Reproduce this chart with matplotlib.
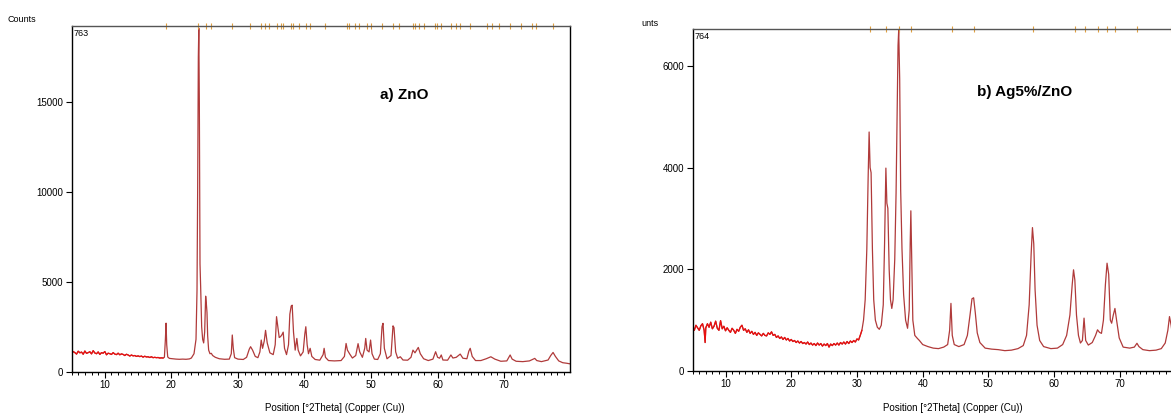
import matplotlib
matplotlib.use("Agg")
import matplotlib.pyplot as plt
from matplotlib.ticker import MultipleLocator

# ---- a) ZnO : 2theta / counts ----
zno_2theta = [5.00, 5.25, 5.50, 5.75, 6.00, 6.25, 6.50, 6.75, 7.00, 7.25, 7.50, 7.75,
              8.00, 8.25, 8.50, 8.75, 9.00, 9.25, 9.50, 9.75, 10.00, 10.25, 10.50, 10.75,
              11.00, 11.25, 11.50, 11.75, 12.00, 12.25, 12.50, 12.75, 13.00, 13.25, 13.50,
              13.75, 14.00, 14.25, 14.50, 14.75, 15.00, 15.25, 15.50, 15.75, 16.00, 16.25,
              16.50, 16.75, 17.00, 17.25, 17.50, 17.75, 18.00, 18.25, 18.50, 18.75,
              18.95, 19.1, 19.2, 19.3, 19.45, 19.7, 20.2, 20.7, 21.2, 21.7, 22.2, 22.7,
              23.0, 23.4, 23.7, 23.85, 23.95, 24.05, 24.12, 24.2, 24.3, 24.4, 24.55, 24.7,
              24.85, 25.0, 25.15, 25.25, 25.35, 25.45, 25.6, 25.8, 26.0, 26.2, 26.6, 27.2,
              28.0, 28.7, 29.0, 29.15, 29.3, 29.5, 30.0, 30.8, 31.3, 31.7, 31.9, 32.2,
              32.6, 33.0, 33.3, 33.5, 33.7, 33.95, 34.15, 34.4, 34.8, 35.3, 35.6, 35.8,
              36.0, 36.2, 36.4, 36.6, 36.8, 37.0, 37.3, 37.6, 37.8, 38.0, 38.15, 38.35,
              38.6, 38.85, 39.05, 39.4, 39.8, 40.05, 40.2, 40.4, 40.6, 40.85, 41.1, 41.6,
              42.3, 42.8, 42.95, 43.15, 43.6, 44.5, 45.5, 46.0, 46.25, 46.45, 46.8, 47.2,
              47.7, 48.05, 48.3, 48.7, 49.05, 49.2, 49.4, 49.7, 49.93, 50.15, 50.5, 51.0,
              51.4, 51.65, 51.8, 52.0, 52.4, 53.0, 53.3, 53.45, 53.7, 54.0, 54.4, 54.8,
              55.5, 56.0, 56.3, 56.6, 57.1, 57.4, 57.9, 58.6, 59.3, 59.7, 60.0, 60.3,
              60.55, 60.8, 61.5, 62.0, 62.3, 62.8, 63.4, 63.8, 64.4, 64.7, 64.9, 65.2,
              65.7, 66.5, 67.3, 68.0, 68.6, 69.5, 70.4, 70.9, 71.2, 71.8, 72.8, 73.8,
              74.6, 74.9, 75.6, 76.6, 77.0, 77.35, 77.7, 78.2, 78.8, 79.4, 80.0]
zno_counts = [1010, 1120, 1060, 980, 1140, 1050, 1090, 970, 1150, 1020, 1060, 1110,
              990, 1170, 1040, 1000, 1100, 960, 1060, 1030, 1120, 940, 1030, 1000,
              960, 1060, 980, 950, 1030, 940, 990, 960, 900, 970, 930,
              870, 930, 880, 900, 850, 880, 840, 870, 810, 860, 820,
              830, 790, 830, 780, 800, 780, 790, 760, 770, 760,
              800, 1800, 2700, 1500, 820, 740, 720, 700, 690, 700, 690, 710,
              760, 1000, 1800, 4500, 10200, 17500, 19100, 15000, 6000, 4700, 2500, 1800,
              1600, 2200, 4200, 3800, 3300, 2000, 1200, 1000, 1020, 900, 800, 720,
              690, 700, 1000, 2040, 1300, 780, 700, 680, 800, 1250, 1390, 1200,
              850, 780, 1100, 1760, 1300, 1700, 2300, 1600, 1050, 950, 1500, 3060,
              2500, 1900, 1950, 2050, 2200, 1300, 950, 1500, 3200, 3650, 3700, 2200,
              1200, 1850, 1200, 880, 1100, 2100, 2500, 1500, 1000, 1300, 850, 680,
              640, 950, 1300, 800, 620, 600, 620, 850, 1570, 1200, 980, 760,
              900, 1560, 1100, 800, 1300, 1850, 1200, 1100, 1760, 1000, 700, 680,
              1000, 2500, 2690, 1300, 720, 900, 2550, 2450, 1100, 750, 830, 650,
              640, 800, 1200, 1050, 1350, 1000, 720, 620, 700, 1110, 800, 750,
              930, 650, 640, 930, 760, 800, 980, 750, 720, 1150, 1300, 850,
              620, 620, 720, 830, 700, 580, 600, 930, 700, 580, 560, 600,
              740, 620, 560, 650, 900, 1070, 850, 600, 500, 470, 430]

# ---- b) Ag5%/ZnO ----
agzno_2theta = [5.00, 5.25, 5.50, 5.75, 6.00, 6.25, 6.50, 6.75, 6.90, 7.00, 7.25, 7.50,
                7.75, 8.00, 8.25, 8.50, 8.75, 9.00, 9.25, 9.50, 9.75, 10.00, 10.25, 10.50,
                10.75, 11.00, 11.25, 11.50, 11.75, 12.00, 12.25, 12.50, 12.75, 13.00, 13.25,
                13.50, 13.75, 14.00, 14.25, 14.50, 14.75, 15.00, 15.25, 15.50, 15.75, 16.00,
                16.25, 16.50, 16.75, 17.00, 17.25, 17.50, 17.75, 18.00, 18.25, 18.50, 18.75,
                19.00, 19.25, 19.50, 19.75, 20.00, 20.25, 20.50, 20.75, 21.00, 21.25, 21.50,
                21.75, 22.00, 22.25, 22.50, 22.75, 23.00, 23.25, 23.50, 23.75, 24.00, 24.25,
                24.50, 24.75, 25.00, 25.25, 25.50, 25.75, 26.00, 26.25, 26.50, 26.75, 27.00,
                27.25, 27.50, 27.75, 28.00, 28.25, 28.50, 28.75, 29.00, 29.25, 29.50, 29.75,
                30.00, 30.25, 30.50, 30.75, 31.00, 31.25, 31.50, 31.70, 31.85, 32.00, 32.15,
                32.35, 32.55, 32.8, 33.1, 33.4, 33.7, 34.0, 34.2, 34.4, 34.55, 34.7, 34.9,
                35.1, 35.3, 35.5, 35.75, 35.95, 36.1, 36.25, 36.35, 36.5, 36.65, 36.85, 37.1,
                37.4, 37.7, 37.95, 38.1, 38.2, 38.35, 38.5, 38.8, 39.2, 39.5, 40.0, 40.8,
                41.6, 42.4, 43.2, 43.8, 44.1, 44.3, 44.5, 44.8, 45.5, 46.3, 46.8, 47.2,
                47.5, 47.75, 48.0, 48.3, 48.7, 49.5, 50.5, 51.5, 52.5, 53.5, 54.5, 55.3,
                55.8, 56.2, 56.5, 56.7, 56.9, 57.1, 57.4, 57.8, 58.4, 59.5, 60.5, 61.3,
                61.9, 62.4, 62.75, 62.95, 63.15, 63.4, 63.7, 64.0, 64.3, 64.55, 64.8, 65.2,
                65.8, 66.3, 66.6, 66.9, 67.2, 67.5, 67.8, 68.05, 68.3, 68.55, 68.75, 69.0,
                69.25, 69.5, 69.9, 70.5, 71.5, 72.2, 72.6, 72.9, 73.5, 74.5, 75.5, 76.3,
                76.9, 77.3, 77.55, 77.8, 78.1, 78.8, 80.0]
agzno_counts = [860, 800, 900, 850, 800, 890, 930, 800, 560, 850, 930, 860,
                960, 830, 880, 980, 840, 800, 990, 830, 880, 790, 850, 800,
                760, 840, 800, 740, 820, 780, 860, 900, 800, 830, 760,
                810, 740, 780, 720, 760, 700, 750, 720, 690, 740, 700,
                690, 750, 720, 770, 700, 720, 660, 690, 640, 670, 620,
                660, 610, 640, 590, 620, 580, 600, 560, 590, 550, 580,
                540, 560, 530, 570, 520, 550, 510, 540, 500, 550, 510,
                540, 490, 530, 500, 540, 470, 530, 500, 540, 510, 550,
                510, 560, 530, 570, 530, 580, 540, 590, 560, 600, 570,
                630, 610, 700, 800, 1000, 1400, 2400, 3800, 4700, 4000, 3900,
                2400, 1400, 1000, 860, 820, 900, 1300, 2500, 3990, 3300, 3200, 2000,
                1400, 1230, 1400, 2200, 3500, 5000, 6400, 6700, 5740, 3560, 2400, 1500,
                1000, 840, 1200, 2500, 3150, 2050, 1000, 700, 640, 600, 520, 480,
                450, 440, 470, 520, 800, 1330, 700, 520, 480, 520, 700, 1100,
                1420, 1440, 1150, 750, 560, 450, 430, 420, 400, 410, 440, 500,
                700, 1300, 2300, 2820, 2500, 1600, 900, 600, 480, 440, 450, 520,
                700, 1100, 1700, 1990, 1790, 1100, 700, 550, 600, 1040, 600, 510,
                560, 700, 810, 760, 740, 1000, 1700, 2120, 1900, 1000, 940, 1100,
                1230, 1000, 650, 470, 450, 470, 545, 480, 420, 400, 410, 440,
                550, 800, 1070, 900, 600, 450, 430]

# reference pattern markers along the top
zno_ref_pos = [19.2, 24.07, 25.18, 25.96, 29.13, 31.86, 33.53, 34.03, 34.69, 35.8, 36.42,
               36.8, 38.03, 38.2, 39.2, 40.2, 40.87, 43.04, 46.32, 46.65, 47.65, 48.2,
               49.32, 49.99, 51.71, 53.33, 54.16, 56.27, 56.66, 57.22, 57.94, 59.61, 59.89,
               60.45, 62.0, 62.78, 63.34, 64.9, 67.4, 68.12, 69.23, 70.9, 72.46, 74.18,
               74.74, 77.4]
agzno_ref_pos = [31.96, 34.48, 36.4, 38.28, 44.44, 47.76, 56.76, 63.13, 64.63, 66.67,
                 68.1, 69.3, 72.67, 77.75]

x_ticks = [10, 20, 30, 40, 50, 60, 70]

panels = [
    dict(x=zno_2theta, y=zno_counts, ref=zno_ref_pos, ymax=19200, yticks=[0, 5000, 10000, 15000],
         rect=[0.0611, 0.100, 0.4257, 0.836], label="a) ZnO", lpos=(0.667, 0.802),
         scan="763", noise_end=18.8),
    dict(x=agzno_2theta, y=agzno_counts, ref=agzno_ref_pos, ymax=6720, yticks=[0, 2000, 4000, 6000],
         rect=[0.5915, 0.1017, 0.4204, 0.8274], label="b) Ag5%/ZnO", lpos=(0.675, 0.817),
         scan="764", noise_end=30.8),
]

tick_font = ["Liberation Sans Narrow", "Liberation Sans", "DejaVu Sans"]
label_font = ["Liberation Sans", "DejaVu Sans"]

fig = plt.figure(figsize=(11.71, 4.13), dpi=100)

for p in panels:
    ax = fig.add_axes(p["rect"])
    ax.plot(p["x"], p["y"], color="#b03a3a", lw=0.9)
    # the noisy low-angle part looks bright red in the reference
    nx = [v for v in p["x"] if v <= p["noise_end"]]
    ax.plot(nx, p["y"][:len(nx)], color="#e81010", lw=0.9)
    ax.plot(p["ref"], [p["ymax"]] * len(p["ref"]), "|", color="#e0a040", ms=4, mew=0.8,
            clip_on=False)
    ax.set_xlim(5, 79.9)
    ax.set_ylim(0, p["ymax"])
    ax.set_xticks(x_ticks)
    ax.set_yticks(p["yticks"])
    ax.xaxis.set_minor_locator(MultipleLocator(1))
    ax.tick_params(axis="both", which="major", direction="out", length=4, width=0.8,
                   labelsize=7, pad=2)
    ax.tick_params(axis="x", which="minor", direction="out", length=2.5, width=0.7)
    for lab in ax.get_xticklabels() + ax.get_yticklabels():
        lab.set_family(tick_font)
    for s in ax.spines.values():
        s.set_linewidth(1.0)
    ax.spines["top"].set_color("#555555")
    ax.text(0.004, 0.992, p["scan"], transform=ax.transAxes, ha="left", va="top",
            fontsize=6.5, family=tick_font)
    ax.text(p["lpos"][0], p["lpos"][1], p["label"], transform=ax.transAxes, ha="center",
            va="center", fontsize=11, fontweight="bold", family=label_font)

fig.text(8 / 1171, 1 - 19 / 413, "Counts", ha="left", va="center", fontsize=6.5, family=tick_font)
fig.text(641 / 1171, 1 - 23 / 413, "unts", ha="left", va="center", fontsize=6.5, family=tick_font)
fig.text(335 / 1171, 1 - 408 / 413, "Position [°2Theta] (Copper (Cu))", ha="center",
         va="center", fontsize=7, family=tick_font)
fig.text(953 / 1171, 1 - 408 / 413, "Position [°2Theta] (Copper (Cu))", ha="center",
         va="center", fontsize=7, family=tick_font)

fig.savefig("out.png", dpi=100)
